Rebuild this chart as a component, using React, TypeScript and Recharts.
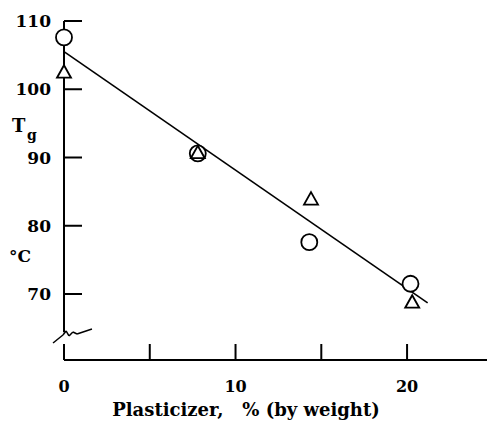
import {
  ComposedChart,
  Line,
  ReferenceLine,
  Scatter,
  XAxis,
  YAxis,
} from "recharts";

// Tg vs plasticizer content
const circles = [
  { x: 0, y: 107.6 },
  { x: 7.8, y: 90.6 },
  { x: 14.3, y: 77.6 },
  { x: 20.2, y: 71.5 },
];
const triangles = [
  { x: 0, y: 102.5 },
  { x: 7.8, y: 90.7 },
  { x: 14.4, y: 83.9 },
  { x: 20.3, y: 68.8 },
];
const fitLine = [
  { x: 0, y: 105.5 },
  { x: 21.2, y: 68.7 },
];
const xTicks = [0, 5, 10, 15, 20];
const xLabelled = [0, 10, 20];
const yTicks = [70, 80, 90, 100, 110];
const yAxisTop = 110;
const yAxisBreak = 64.4;
// axis break squiggle
const breakMark = [
  { x: -0.64, y: 62.82 },
  { x: -0.06, y: 63.99 },
  { x: 0.12, y: 64.58 },
  { x: 0.29, y: 63.85 },
  { x: 0.52, y: 64.43 },
  { x: 0.76, y: 64.14 },
  { x: 1.63, y: 64.87 },
];

const FONT = "'DejaVu Serif', serif";

const Circle = (p: any) => (
  <circle cx={p.cx} cy={p.cy} r={8} fill="#fff" stroke="#000" strokeWidth={1.8} />
);

const Triangle = (p: any) => {
  const { cx, cy } = p;
  return (
    <path
      d={`M${cx},${cy - 7} L${cx + 7},${cy + 5.5} L${cx - 7},${cy + 5.5} Z`}
      fill="#fff"
      stroke="#000"
      strokeWidth={1.8}
    />
  );
};

const XTick = ({ x, y, payload }: any) => (
  <g>
    <line x1={x} x2={x} y1={y} y2={y - 16} stroke="#000" strokeWidth={2} />
    {xLabelled.includes(payload.value) && (
      <text x={x} y={y + 32} textAnchor="middle" fontFamily={FONT} fontWeight="bold" fontSize={16} fill="#000">
        {payload.value}
      </text>
    )}
  </g>
);

const YTick = ({ x, y, payload }: any) => (
  <g>
    <line x1={x} x2={x + 18} y1={y} y2={y} stroke="#000" strokeWidth={2} />
    <text x={x - 13} y={y + 6} textAnchor="end" fontFamily={FONT} fontWeight="bold" fontSize={17} fill="#000">
      {payload.value}
    </text>
  </g>
);

const YTitle = () => (
  <g fontFamily={FONT} fontWeight="bold" fill="#000">
    <text x={12} y={132} fontSize={18}>T</text>
    <text x={27} y={140} fontSize={14}>g</text>
    <text x={9} y={262} fontSize={17}>°C</text>
  </g>
);

const XTitle = () => (
  <text x={246} y={416} textAnchor="middle" fontFamily={FONT} fontWeight="bold" fontSize={18} fill="#000" style={{ whiteSpace: "pre" }}>
    {"Plasticizer,   % (by weight)"}
  </text>
);

export default function App() {
  return (
    <div style={{ position: "absolute", left: 0, top: 0, background: "#fff" }}>
      <ComposedChart width={487} height={421} margin={{ top: 21, right: 0, left: 4, bottom: 0 }}>
        <XAxis
          type="number"
          dataKey="x"
          domain={[0, 24.66]}
          ticks={xTicks}
          tick={<XTick />}
          tickLine={false}
          tickSize={0}
          tickMargin={0}
          height={61}
          axisLine={{ stroke: "#000", strokeWidth: 2 }}
          label={{ content: <XTitle /> }}
        />
        <YAxis
          type="number"
          dataKey="y"
          domain={[60.33, 110]}
          ticks={yTicks}
          tick={<YTick />}
          tickLine={false}
          tickSize={0}
          tickMargin={0}
          width={60}
          axisLine={false}
          label={{ content: <YTitle /> }}
        />
        <ReferenceLine
          segment={[
            { x: 0, y: yAxisTop },
            { x: 0, y: yAxisBreak },
          ]}
          stroke="#000"
          strokeWidth={2}
          ifOverflow="visible"
        />
        {breakMark.slice(1).map((pt, i) => (
          <ReferenceLine
            key={i}
            segment={[breakMark[i], pt]}
            stroke="#000"
            strokeWidth={1.5}
            ifOverflow="visible"
          />
        ))}
        <Line
          data={fitLine}
          dataKey="y"
          type="linear"
          stroke="#000"
          strokeWidth={1.6}
          dot={false}
          isAnimationActive={false}
        />
        <Scatter data={circles} dataKey="y" shape={<Circle />} isAnimationActive={false} />
        <Scatter data={triangles} dataKey="y" shape={<Triangle />} isAnimationActive={false} />
      </ComposedChart>
    </div>
  );
}
